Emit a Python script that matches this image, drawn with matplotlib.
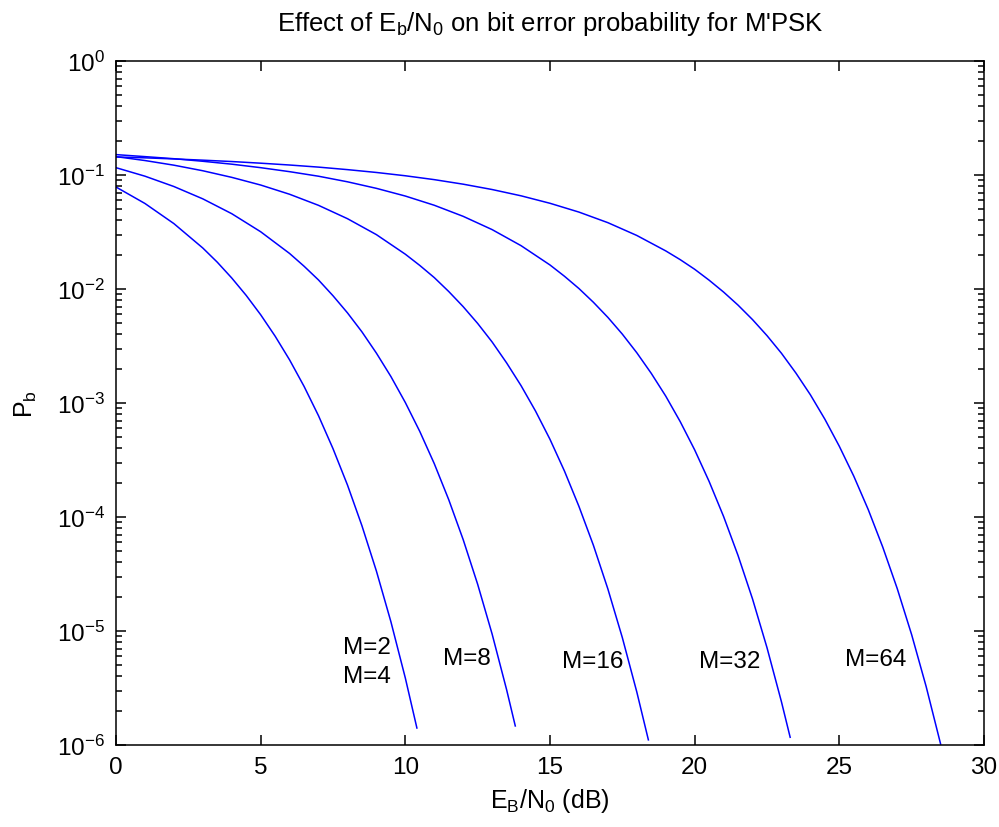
"""Bit error probability of M-PSK versus Eb/N0, MATLAB-style figure."""
import math

import matplotlib
matplotlib.use("Agg")
import matplotlib.pyplot as plt                                    # noqa: E402
from matplotlib.ticker import (FixedLocator, FuncFormatter,        # noqa: E402
                               LogLocator, NullFormatter)

plt.rcParams["font.family"] = ["Liberation Sans", "DejaVu Sans"]
plt.rcParams["mathtext.default"] = "regular"

# Eb/N0 (dB) and bit error probability
snr_m2 = [0, 1, 2, 3, 3.5, 4, 4.5, 5, 5.5, 6, 6.5, 7, 7.5, 8, 8.5, 9, 9.5, 10,
          10.4]
pb_m2 = [7.85e-2, 5.63e-2, 3.75e-2, 2.29e-2, 1.72e-2, 1.25e-2, 8.79e-3,
         5.95e-3, 3.86e-3, 2.39e-3, 1.40e-3, 7.73e-4, 3.98e-4, 1.91e-4,
         8.39e-5, 3.36e-5, 1.21e-5, 3.87e-6, 1.41e-6]

snr_m8 = [0, 1, 2, 3, 4, 5, 6, 6.5, 7, 7.5, 8, 8.5, 9, 9.5, 10, 10.5, 11,
          11.5, 12, 12.5, 13, 13.5, 13.8]
pb_m8 = [0.116, 0.0977, 0.0793, 0.0618, 0.0458, 0.0318, 0.0205, 0.01585,
         0.0120, 8.73e-3, 6.18e-3, 4.21e-3, 2.74e-3, 1.71e-3, 1.01e-3, 5.63e-4,
         2.94e-4, 1.42e-4, 6.33e-5, 2.57e-5, 9.4e-6, 3.06e-6, 1.47e-6]

snr_m16 = [0, 1, 2, 3, 4, 5, 6, 7, 8, 9, 10, 10.5, 11, 11.5, 12, 12.5, 13,
           13.5, 14, 14.5, 15, 15.5, 16, 16.5, 17, 17.5, 18, 18.4]
pb_m16 = [0.145, 0.134, 0.122, 0.109, 0.0954, 0.0817, 0.0678, 0.0542, 0.0414,
          0.0300, 0.0202, 0.0161, 0.0126, 9.51e-3, 7.0e-3, 4.99e-3, 3.43e-3,
          2.25e-3, 1.42e-3, 8.50e-4, 4.80e-4, 2.53e-4, 1.24e-4, 5.65e-5,
          2.34e-5, 8.75e-6, 2.92e-6, 1.11e-6]

snr_m32 = [0, 1, 2, 3, 4, 5, 6, 7, 8, 9, 10, 11, 12, 13, 14, 15, 15.5, 16,
           16.5, 17, 17.5, 18, 18.5, 19, 19.5, 20, 20.5, 21, 21.5, 22, 22.5,
           23, 23.3]
pb_m32 = [0.151, 0.145, 0.139, 0.132, 0.1245, 0.116, 0.107, 0.0976, 0.0872,
          0.0764, 0.0654, 0.0543, 0.0434, 0.0332, 0.0240, 0.01625, 0.01294,
          0.0101, 7.65e-3, 5.64e-3, 4.02e-3, 2.76e-3, 1.82e-3, 1.15e-3,
          6.87e-4, 3.88e-4, 2.05e-4, 1.01e-4, 4.59e-5, 1.91e-5, 7.14e-6,
          2.39e-6, 1.17e-6]

snr_m64 = [0, 1, 2, 3, 4, 5, 6, 7, 8, 9, 10, 11, 12, 13, 14, 15, 16, 17, 18,
           19, 19.5, 20, 20.5, 21, 21.5, 22, 22.5, 23, 23.5, 24, 24.5, 25,
           25.5, 26, 26.5, 27, 27.5, 28, 28.5]
pb_m64 = [0.144, 0.1415, 0.1384, 0.135, 0.1313, 0.127, 0.1224, 0.1173, 0.1115,
          0.1053, 0.0985, 0.0911, 0.0831, 0.0746, 0.0657, 0.0565, 0.0473,
          0.0382, 0.0295, 0.0216, 0.0181, 0.0149, 0.01195, 9.4e-3, 7.22e-3,
          5.39e-3, 3.90e-3, 2.73e-3, 1.83e-3, 1.18e-3, 7.21e-4, 4.17e-4,
          2.28e-4, 1.16e-4, 5.45e-5, 2.36e-5, 9.27e-6, 3.26e-6, 1.02e-6]

curve_labels = ["M=2", "M=4", "M=8", "M=16", "M=32", "M=64"]
label_x = [7.85, 7.85, 11.3, 15.4, 20.15, 25.2]
label_y = [7.2e-6, 4.0e-6, 5.8e-6, 5.5e-6, 5.5e-6, 5.7e-6]

x_ticks = [0, 5, 10, 15, 20, 25, 30]
y_ticks = [1e-6, 1e-5, 1e-4, 1e-3, 1e-2, 1e-1, 1e0]

fig = plt.figure(figsize=(9.99, 8.28), dpi=100)
ax = fig.add_axes([0.1161, 0.0990, 0.8689, 0.8261])

for snr, pb in [(snr_m2, pb_m2), (snr_m8, pb_m8), (snr_m16, pb_m16),
                (snr_m32, pb_m32), (snr_m64, pb_m64)]:
    ax.semilogy(snr, pb, color="#0000ff", lw=1.1)

for txt, lx, ly in zip(curve_labels, label_x, label_y):
    ax.text(lx, ly, txt, fontsize=17.5, ha="left", va="center")

ax.set_xlim(0, 30)
ax.set_ylim(1e-6, 1)
ax.xaxis.set_major_locator(FixedLocator(x_ticks))
ax.yaxis.set_major_locator(FixedLocator(y_ticks))
ax.yaxis.set_minor_locator(LogLocator(base=10, subs=range(2, 10),
                                      numticks=20))
ax.yaxis.set_minor_formatter(NullFormatter())
ax.yaxis.set_major_formatter(
    FuncFormatter(lambda v, _: r"$10^{%d}$" % round(math.log10(v))))

ax.tick_params(which="both", direction="in", top=True, right=True,
               labelsize=17.5, width=1.1)
ax.tick_params(which="major", length=7, pad=8)
ax.tick_params(which="minor", length=4.5)
for sp in ax.spines.values():
    sp.set_linewidth(1.1)

ax.set_title(r"Effect of $E_b/N_0$ on bit error probability for M'PSK",
             fontsize=18.5, pad=22)
ax.set_xlabel(r"$E_B/N_0$ (dB)", fontsize=18, labelpad=6)
ax.set_ylabel(r"$P_b$", fontsize=18, labelpad=13)

fig.savefig("out.png", dpi=100)
